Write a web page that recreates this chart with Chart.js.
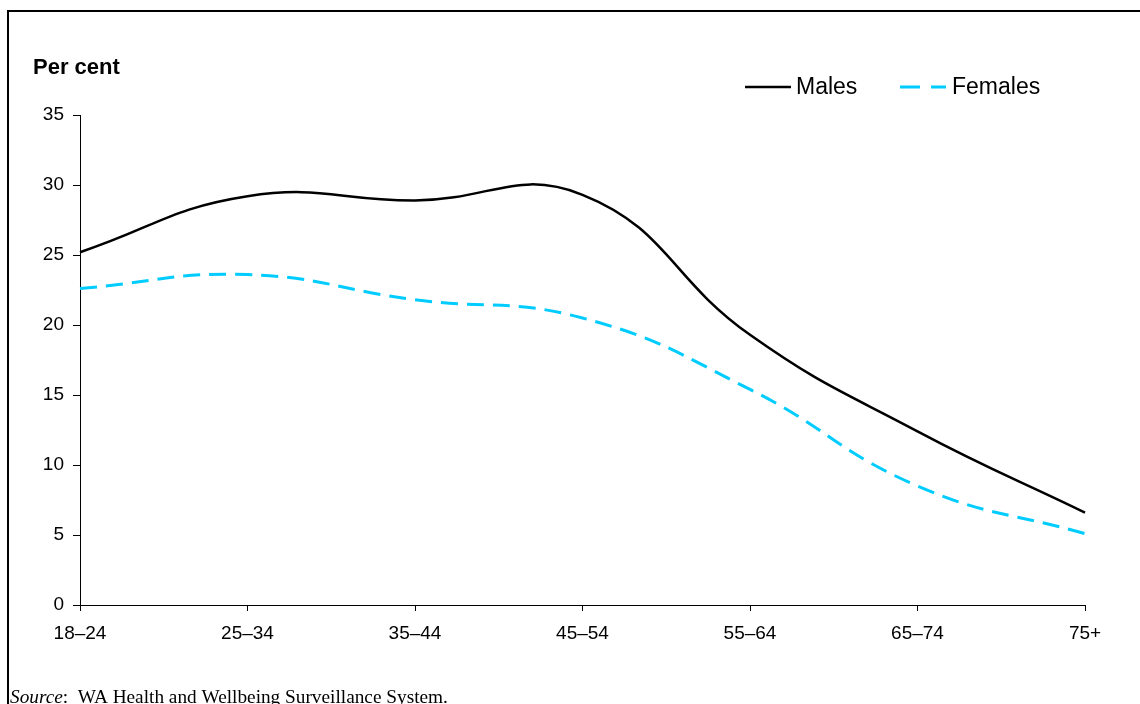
<!DOCTYPE html>
<html>
<head>
<meta charset="utf-8">
<script src="https://cdn.jsdelivr.net/npm/chart.js@4.4.1/dist/chart.umd.min.js"></script>
<style>
html,body{margin:0;padding:0;background:#fff;}
#wrap{position:relative;width:1140px;height:704px;}
canvas{display:block;}
</style>
</head>
<body>
<div id="wrap"><canvas id="c" width="1140" height="704"></canvas></div>
<script>
const categories = ['18–24','25–34','35–44','45–54','55–64','65–74','75+'];
const males = [25.2, 29.2, 28.9, 29.3, 19.3, 12.4, 6.6];
const females = [22.6, 23.6, 21.8, 20.5, 15.4, 8.5, 5.1];
const yTicks = [0,5,10,15,20,25,30,35];
const seriesNames = ['Males','Females'];
const axisTitle = 'Per cent';
const sourceLabel = 'Source';
const sourceText = ':  WA Health and Wellbeing Surveillance System.';

const FONT = '"Liberation Sans", Arial, sans-serif';

const decor = {
  id: 'decor',
  afterDraw(chart) {
    const ctx = chart.ctx;
    ctx.save();
    // frame
    ctx.strokeStyle = '#000';
    ctx.lineWidth = 2;
    ctx.beginPath();
    ctx.moveTo(8, 710);
    ctx.lineTo(8, 11);
    ctx.lineTo(1145, 11);
    ctx.stroke();
    // axis title
    ctx.fillStyle = '#000';
    ctx.font = 'bold 22px ' + FONT;
    ctx.textBaseline = 'middle';
    ctx.textAlign = 'left';
    ctx.fillText(axisTitle, 33, 68);
    // legend
    ctx.font = '23px ' + FONT;
    const ds = chart.data.datasets;
    const items = [{x: 745, tx: 796, dash: []}, {x: 900, tx: 952, dash: [20, 11]}];
    items.forEach((it, i) => {
      ctx.beginPath();
      ctx.strokeStyle = ds[i].borderColor;
      ctx.lineWidth = ds[i].borderWidth;
      ctx.setLineDash(it.dash);
      ctx.moveTo(it.x, 87);
      ctx.lineTo(it.x + 46, 87);
      ctx.stroke();
      ctx.setLineDash([]);
      ctx.fillStyle = '#000';
      ctx.fillText(ds[i].label, it.tx, 88);
    });
    // source
    ctx.font = 'italic 19.3px "Liberation Serif", "Times New Roman", serif';
    ctx.textBaseline = 'alphabetic';
    ctx.fillText(sourceLabel, 10, 703);
    const w = ctx.measureText(sourceLabel).width;
    ctx.font = '19.3px "Liberation Serif", "Times New Roman", serif';
    ctx.fillText(sourceText, 10 + w, 703);
    ctx.restore();
  }
};

new Chart(document.getElementById('c'), {
  type: 'line',
  data: {
    labels: categories,
    datasets: [
      {label: seriesNames[0], data: males, borderColor: '#000000', borderWidth: 2.5, pointRadius: 0, tension: 0.45, fill: false},
      {label: seriesNames[1], data: females, borderColor: '#00CCFF', borderWidth: 3, borderDash: [17, 9], pointRadius: 0, tension: 0.45, fill: false}
    ]
  },
  options: {
    responsive: false,
    animation: false,
    layout: {padding: {left: 0, right: 55, top: 115, bottom: 0}},
    plugins: {legend: {display: false}, tooltip: {enabled: false}},
    scales: {
      x: {
        offset: false,
        grid: {display: true, drawOnChartArea: false, drawTicks: true, tickLength: 6, color: '#000', tickColor: '#000'},
        border: {display: true, color: '#000', width: 1},
        ticks: {color: '#000', font: {family: FONT, size: 19}, padding: 11, maxRotation: 0, autoSkip: false},
        afterFit(s) { s.height = 99; }
      },
      y: {
        min: 0, max: 35,
        afterBuildTicks(s) { s.ticks = yTicks.map(v => ({value: v})); },
        grid: {display: true, drawOnChartArea: false, drawTicks: true, tickLength: 7, color: '#000', tickColor: '#000'},
        border: {display: true, color: '#000', width: 1},
        ticks: {color: '#000', font: {family: FONT, size: 19}, padding: 9},
        afterFit(s) { s.width = 80; }
      }
    }
  },
  plugins: [decor]
});
</script>
</body>
</html>
